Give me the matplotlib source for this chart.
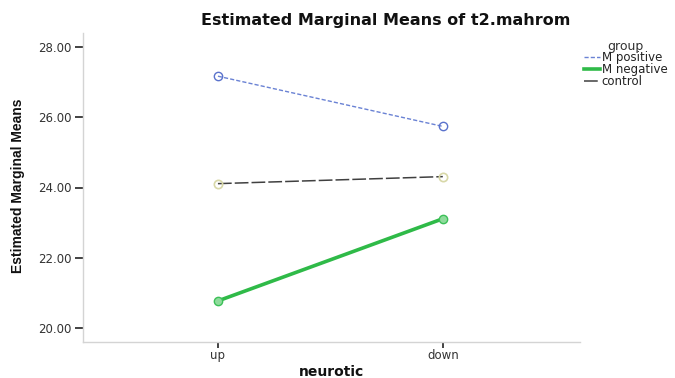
import matplotlib
matplotlib.use("Agg")
import matplotlib.pyplot as plt
from matplotlib.lines import Line2D

categories = ["up", "down"]
groups = ["M positive", "M negative", "control"]
m_positive = [27.17, 25.74]
m_negative = [20.77, 23.11]
control = [24.11, 24.31]
yticks = [20.0, 22.0, 24.0, 26.0, 28.0]

fig = plt.figure(figsize=(6.75, 3.78), dpi=100)
ax = fig.add_axes([83/675, 1-342/378, (580-83)/675, (342-33)/378])

x = list(range(len(categories)))
ax.plot(x, m_positive, color="#6a82d4", lw=1.0, ls=(0, (3, 1.5)),
        marker="o", ms=6, mfc="none", mec="#5a72cc", mew=1.0)
ax.plot(x, m_negative, color="#2fba48", lw=2.6, ls="-",
        marker="o", ms=6, mfc="#8fdb9c", mec="#3cc058", mew=1.0)
ax.plot(x, control, color="#404040", lw=1.1, ls=(0, (9, 2)),
        marker="o", ms=6, mfc="none", mec="#d8d8a8", mew=1.2)

ax.set_xlim(-0.6, 1.61)
ax.set_ylim(19.6, 28.4)
ax.set_xticks(x)
ax.set_xticklabels(categories)
ax.set_yticks(yticks)
ax.set_yticklabels([f"{v:.2f}" for v in yticks])

for s in ["top", "right"]:
    ax.spines[s].set_visible(False)
for s in ["left", "bottom"]:
    ax.spines[s].set_color("#d4d4d4")
    ax.spines[s].set_linewidth(1.0)

ax.tick_params(axis="y", direction="out", length=6, width=1.2, color="#222222",
               labelsize=8.5, labelcolor="#333333", pad=2)
ax.tick_params(axis="x", direction="out", length=4, width=1.2, color="#222222",
               labelsize=8.5, labelcolor="#333333", pad=1)

fig.text(386/675, 1-20/378, "Estimated Marginal Means of t2.mahrom",
         ha="center", va="center", fontsize=11.5, fontweight="bold",
         family="DejaVu Sans", color="#111111")
fig.text(331/675, 1-376/378, "neurotic", ha="center", va="baseline",
         fontsize=10, fontweight="bold", family="DejaVu Sans", color="#111111")
fig.text(18/675, 1-186/378, "Estimated Marginal Means", ha="center", va="center",
         rotation=90, fontsize=10, fontweight="bold",
         family=["Liberation Sans Narrow", "Liberation Sans"], color="#111111")

handles = [
    Line2D([], [], color="#6a82d4", lw=1.0, ls=(0, (3, 1.5))),
    Line2D([], [], color="#2fba48", lw=2.6),
    Line2D([], [], color="#404040", lw=1.1, ls=(0, (9, 2))),
]
leg = fig.legend(handles, groups, loc="upper left",
                 bbox_to_anchor=(578/675, 1-34/378), frameon=False,
                 fontsize=8.5, handlelength=1.4, handletextpad=0.1,
                 labelspacing=-0.12, borderpad=0, title="group",
                 title_fontsize=9)
leg._legend_box.align = "center"
for t in leg.get_texts():
    t.set_color("#222222")
leg.get_title().set_color("#333333")

fig.savefig("out.png", dpi=100)
